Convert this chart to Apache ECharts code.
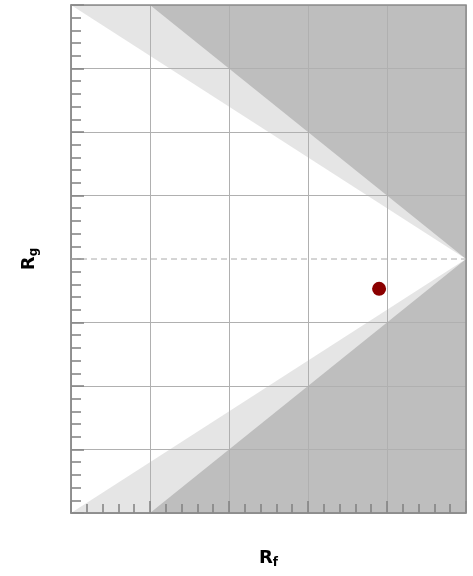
<!DOCTYPE html>
<html>
<head>
<meta charset="utf-8">
<script src="https://cdn.jsdelivr.net/npm/echarts@6/dist/echarts.min.js"></script>
<style>
  html, body { margin: 0; padding: 0; background: #fff; overflow: hidden; }
  #chart { width: 100vw; height: 100vh; }
</style>
</head>
<body>
<div id="chart"></div>
<script>
// Axis extents
const xRange = [0, 5];
const yRange = [-4, 4];

// Feasible region (white): bounded by the outer limit lines
const whiteRegion = [[0, 4], [5, 0], [0, -4]];
// Transition band (light grey): between the outer and inner limit lines
const bandRegion = [[0, 4], [1, 4], [5, 0], [1, -4], [0, -4]];
// Excluded region (dark grey): whole plotting box
const darkRegion = [[0, -4], [5, -4], [5, 4], [0, 4]];

// Reference line at R_g = 0
const zeroLine = [[0, 0], [5, 0]];

// Observed point
const observed = [[3.9, -0.47]];

const regions = [
  { pts: darkRegion, color: '#bebebe' },
  { pts: bandRegion, color: '#e5e5e5' },
  { pts: whiteRegion, color: '#ffffff' }
];

const chart = echarts.init(document.getElementById('chart'), null, { renderer: 'canvas' });

// split line colours: hide the solid line at y = 0 (dashed line drawn instead)
const ySplitColors = [];
for (let v = yRange[0]; v <= yRange[1]; v++) {
  ySplitColors.push(v === 0 ? 'rgba(0,0,0,0)' : '#b0b0b0');
}

const axisNameRich = {
  r: { fontSize: 18, fontWeight: 'bold', color: '#000', fontFamily: 'DejaVu Sans' },
  s: { fontSize: 12, fontWeight: 'bold', color: '#000', fontFamily: 'DejaVu Sans', padding: [9, 0, 0, 0] }
};

chart.setOption({
  animation: false,
  backgroundColor: '#fff',
  grid: {
    left: 71, right: 7, top: 5, bottom: 63,
    show: true, borderColor: '#8c8c8c', borderWidth: 1.5, backgroundColor: 'transparent', z: 4
  },
  xAxis: {
    type: 'value', min: xRange[0], max: xRange[1], interval: 1, z: 3,
    name: '{r|R}{s|f}', nameLocation: 'middle', nameGap: 35,
    nameTextStyle: { rich: axisNameRich },
    axisLine: { show: true, onZero: false, lineStyle: { color: '#8c8c8c', width: 1.5 } },
    axisTick: { show: true, inside: true, length: 12, lineStyle: { color: '#808080', width: 1.5 } },
    minorTick: { show: true, splitNumber: 5, length: 9, lineStyle: { color: '#808080', width: 1.5 } },
    axisLabel: { show: false },
    splitLine: { show: true, lineStyle: { color: '#b0b0b0', width: 1 } },
    minorSplitLine: { show: false }
  },
  yAxis: {
    type: 'value', min: yRange[0], max: yRange[1], interval: 1, z: 3,
    name: '{r|R}{s|g}', nameLocation: 'middle', nameGap: 31, nameRotate: 90,
    nameTextStyle: { rich: axisNameRich },
    axisLine: { show: true, onZero: false, lineStyle: { color: '#8c8c8c', width: 1.5 } },
    axisTick: { show: true, inside: true, length: 13, lineStyle: { color: '#808080', width: 1.5 } },
    minorTick: { show: true, splitNumber: 5, length: 10, lineStyle: { color: '#808080', width: 1.5 } },
    axisLabel: { show: false },
    splitLine: { show: true, lineStyle: { color: ySplitColors, width: 1 } },
    minorSplitLine: { show: false }
  },
  series: [
    {
      type: 'custom',
      z: 1,
      silent: true,
      data: regions.map((r, i) => [i]),
      renderItem: function (params, api) {
        const r = regions[api.value(0)];
        return {
          type: 'polygon',
          shape: { points: r.pts.map(p => api.coord(p)) },
          style: { fill: r.color, stroke: null }
        };
      }
    },
    {
      type: 'line',
      z: 4,
      data: zeroLine,
      symbol: 'none',
      silent: true,
      lineStyle: { color: '#aaaaaa', width: 1, type: [6, 4] }
    },
    {
      type: 'scatter',
      z: 5,
      data: observed,
      symbol: 'circle',
      symbolSize: 14,
      itemStyle: { color: '#8b0000', opacity: 1 }
    }
  ]
});
</script>
</body>
</html>
